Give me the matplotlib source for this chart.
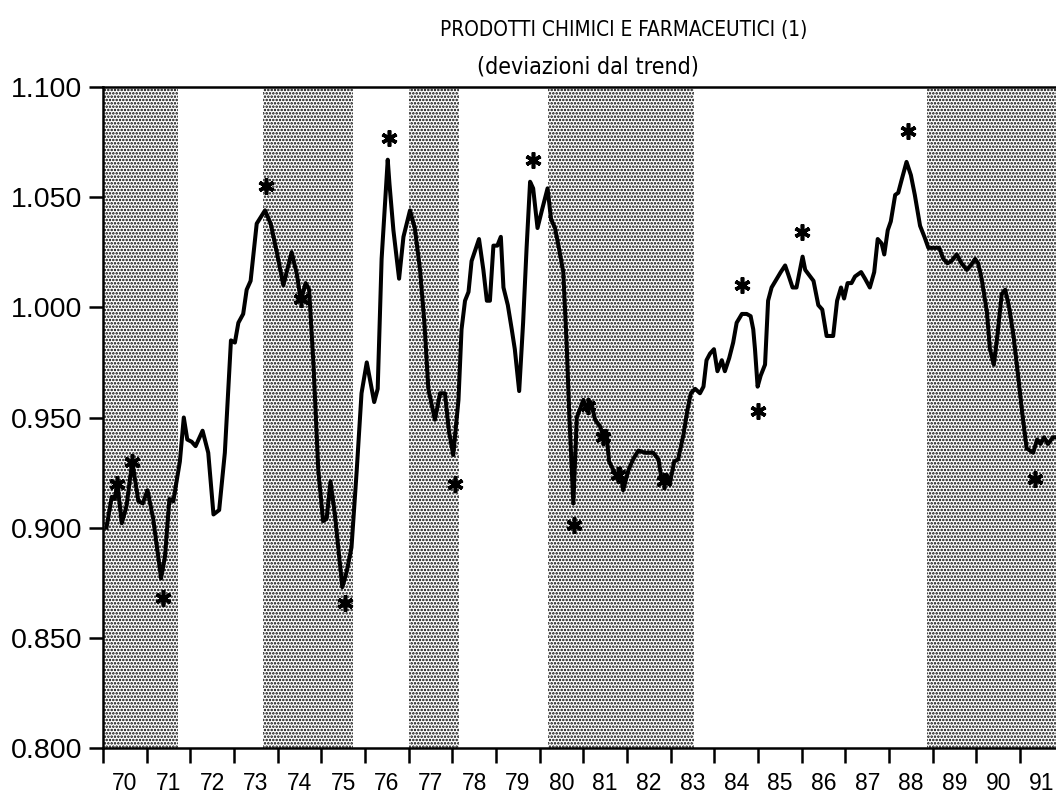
import matplotlib
matplotlib.use("Agg")
import matplotlib.pyplot as plt
import matplotlib.font_manager as fm

# ---------------- data ----------------
t = [70.08, 70.20, 70.27, 70.33, 70.43, 70.54, 70.67, 70.81, 70.91, 71.02, 71.15, 71.33, 71.42, 71.52, 71.61,
     71.76, 71.85, 71.93, 72.03, 72.12, 72.28, 72.41, 72.53, 72.66, 72.79, 72.93, 73.02, 73.10, 73.21, 73.29,
     73.38, 73.52, 73.71, 73.84, 73.98, 74.13, 74.32, 74.44, 74.53, 74.64, 74.72, 74.82, 74.93, 75.04, 75.12,
     75.21, 75.31, 75.48, 75.58, 75.69, 75.81, 75.92, 76.04, 76.21, 76.29, 76.38, 76.52, 76.56, 76.65, 76.78,
     76.88, 77.03, 77.14, 77.26, 77.36, 77.45, 77.60, 77.72, 77.83, 77.92, 78.02, 78.14, 78.21, 78.29, 78.37,
     78.44, 78.61, 78.71, 78.79, 78.86, 78.94, 79.03, 79.11, 79.17, 79.27, 79.36, 79.43, 79.53, 79.62, 79.70,
     79.78, 79.85, 79.95, 80.05, 80.18, 80.26, 80.35, 80.43, 80.54, 80.62, 80.68, 80.77, 80.85, 81.00, 81.08,
     81.17, 81.27, 81.38, 81.47, 81.52, 81.59, 81.69, 81.78, 81.84, 81.91, 82.03, 82.14, 82.26, 82.41, 82.60,
     82.72, 82.79, 82.91, 82.98, 83.08, 83.17, 83.29, 83.38, 83.46, 83.56, 83.67, 83.75, 83.82, 83.90, 83.99,
     84.07, 84.17, 84.24, 84.34, 84.43, 84.51, 84.63, 84.74, 84.83, 84.89, 84.93, 84.99, 85.06, 85.16, 85.23,
     85.31, 85.43, 85.52, 85.62, 85.69, 85.79, 85.88, 85.98, 86.02, 86.08, 86.27, 86.38, 86.47, 86.57, 86.72,
     86.81, 86.90, 86.97, 87.05, 87.14, 87.22, 87.36, 87.45, 87.56, 87.66, 87.74, 87.83, 87.89, 87.97, 88.04,
     88.14, 88.21, 88.29, 88.40, 88.50, 88.59, 88.71, 88.81, 88.90, 89.05, 89.15, 89.24, 89.34, 89.43, 89.55,
     89.66, 89.78, 89.87, 89.97, 90.04, 90.12, 90.24, 90.31, 90.40, 90.48, 90.58, 90.66, 90.75, 90.85, 90.96,
     91.05, 91.15, 91.30, 91.39, 91.47, 91.55, 91.64, 91.75, 91.85]
v = [0.900, 0.914, 0.913, 0.920, 0.902, 0.910, 0.930, 0.912, 0.911, 0.917, 0.904, 0.877, 0.887, 0.913, 0.912,
     0.930, 0.950, 0.940, 0.939, 0.937, 0.944, 0.934, 0.906, 0.908, 0.934, 0.985, 0.984, 0.993, 0.997, 1.008,
     1.012, 1.038, 1.044, 1.038, 1.025, 1.010, 1.025, 1.015, 1.003, 1.011, 1.008, 0.974, 0.926, 0.903, 0.904,
     0.921, 0.906, 0.873, 0.880, 0.891, 0.926, 0.961, 0.975, 0.957, 0.963, 1.022, 1.067, 1.056, 1.035, 1.013,
     1.032, 1.044, 1.036, 1.017, 0.993, 0.963, 0.949, 0.961, 0.961, 0.944, 0.933, 0.958, 0.990, 1.003, 1.007,
     1.021, 1.031, 1.017, 1.003, 1.003, 1.028, 1.028, 1.032, 1.009, 1.001, 0.990, 0.981, 0.962, 0.993, 1.027,
     1.057, 1.054, 1.036, 1.044, 1.054, 1.040, 1.036, 1.028, 1.016, 0.982, 0.950, 0.911, 0.950, 0.958, 0.953,
     0.957, 0.949, 0.946, 0.941, 0.944, 0.930, 0.926, 0.922, 0.927, 0.917, 0.926, 0.931, 0.935, 0.934, 0.934,
     0.931, 0.922, 0.924, 0.920, 0.930, 0.931, 0.942, 0.953, 0.961, 0.963, 0.961, 0.964, 0.976, 0.979, 0.981,
     0.971, 0.976, 0.971, 0.977, 0.984, 0.993, 0.997, 0.997, 0.996, 0.990, 0.981, 0.964, 0.969, 0.974, 1.003,
     1.009, 1.013, 1.016, 1.019, 1.015, 1.009, 1.009, 1.019, 1.023, 1.017, 1.012, 1.001, 0.999, 0.987, 0.987,
     1.003, 1.009, 1.004, 1.011, 1.011, 1.014, 1.016, 1.013, 1.009, 1.016, 1.031, 1.029, 1.024, 1.035, 1.039,
     1.051, 1.052, 1.058, 1.066, 1.060, 1.051, 1.037, 1.032, 1.027, 1.027, 1.027, 1.022, 1.020, 1.021, 1.024,
     1.020, 1.017, 1.019, 1.022, 1.020, 1.013, 0.998, 0.981, 0.974, 0.987, 1.006, 1.008, 1.000, 0.987, 0.968,
     0.952, 0.936, 0.934, 0.940, 0.938, 0.941, 0.938, 0.941, 0.941]

# turning-point markers (asterisks)
star_t = [71.38, 73.73, 75.54, 76.56, 78.05, 79.85, 80.79, 84.63, 85.01, 86.00, 88.44, 91.34,
          70.33, 70.67, 74.53, 81.11, 81.46, 81.80, 82.85]
star_v = [0.868, 1.055, 0.866, 1.077, 0.920, 1.067, 0.901, 1.010, 0.953, 1.034, 1.080, 0.922,
          0.920, 0.930, 1.004, 0.955, 0.941, 0.924, 0.921]

# shaded periods (start, end in years)
shade_start = [70.00, 73.67, 77.00, 80.18, 88.87]
shade_end = [71.72, 75.73, 78.15, 83.53, 92.00]

years = list(range(70, 92))
year_labels = [str(y) for y in years]
ytick_vals = [0.800, 0.850, 0.900, 0.950, 1.000, 1.050, 1.100]
ytick_labels = ["0.800", "0.850", "0.900", "0.950", "1.000", "1.050", "1.100"]

title = "PRODOTTI CHIMICI E FARMACEUTICI (1)"
subtitle = "(deviazioni dal trend)"


def find_narrow(weight):
    """Return a FontProperties for a condensed/narrow face if one is installed."""
    prefs = ['Liberation Sans Narrow', 'DejaVu Sans', 'Open Sans', 'Roboto', 'Noto Sans']
    for name in prefs:
        for f in fm.fontManager.ttflist:
            if f.name != name:
                continue
            narrow = ('Narrow' in f.name) or ('ondensed' in str(f.stretch)) or \
                     ('Condensed' in f.fname) or ('Narrow' in f.fname)
            if not narrow:
                continue
            wt = f.weight if isinstance(f.weight, int) else (700 if 'bold' in str(f.weight).lower() else 400)
            if (weight == 'bold') == (wt >= 600) and f.style == 'normal':
                return fm.FontProperties(fname=f.fname)
    return fm.FontProperties(family=['Liberation Sans', 'DejaVu Sans'], weight=weight)


# ---------------- figure ----------------
plt.rcParams['font.family'] = ['Liberation Sans', 'DejaVu Sans']
plt.rcParams['hatch.linewidth'] = 1.2
plt.rcParams['hatch.color'] = 'black'

W, H = 1056, 794
fig = plt.figure(figsize=(W / 100, H / 100), dpi=100)
ax = fig.add_axes([103 / W, 1 - 748 / H, 1 - 103 / W, (748 - 87) / H])

ax.set_xlim(70, 70 + 953 / 43.67)
ax.set_ylim(0.8, 1.1)

for s, e in zip(shade_start, shade_end):
    ax.axvspan(s, e, facecolor='white', edgecolor='black', hatch='.....', linewidth=0, zorder=0)

ax.plot(t, v, color='black', lw=2.9, solid_joinstyle='round', zorder=3)
ax.plot(star_t, star_v, ls='none', marker=(6, 2, 0), ms=11.5, mew=2.6, color='black', zorder=4)

for side in ['left', 'top', 'bottom']:
    ax.spines[side].set_linewidth(1.8)
ax.spines['right'].set_visible(False)

ax.set_yticks(ytick_vals)
ax.set_yticklabels(ytick_labels)
ax.tick_params(axis='y', direction='out', length=10, width=1.8, labelsize=20.5, pad=5)

ax.set_xticks(years)
ax.set_xticklabels([])
ax.tick_params(axis='x', which='major', direction='out', length=11, width=1.8)
ax.set_xticks([y + 0.5 for y in years], minor=True)
ax.set_xticklabels(year_labels, minor=True)
ax.tick_params(axis='x', which='minor', length=0, labelsize=16.5, pad=17)

fp_title = find_narrow('normal')
fp_sub = find_narrow('normal')
fp_title.set_size(18)
fp_sub.set_size(16)
t1 = fig.text(624 / W, 1 - 30 / H, title, ha='center', va='center', fontproperties=fp_title)
t2 = fig.text(588 / W, 1 - 67 / H, subtitle, ha='center', va='center', fontproperties=fp_sub)

# fit the title widths to the reference (about 370 px and 223 px)
fig.canvas.draw()
r = fig.canvas.get_renderer()
for txt, target in ((t1, 370.0), (t2, 223.0)):
    wpx = txt.get_window_extent(r).width
    txt.set_fontsize(txt.get_fontsize() * target / wpx)

fig.savefig("out.png", dpi=100)
